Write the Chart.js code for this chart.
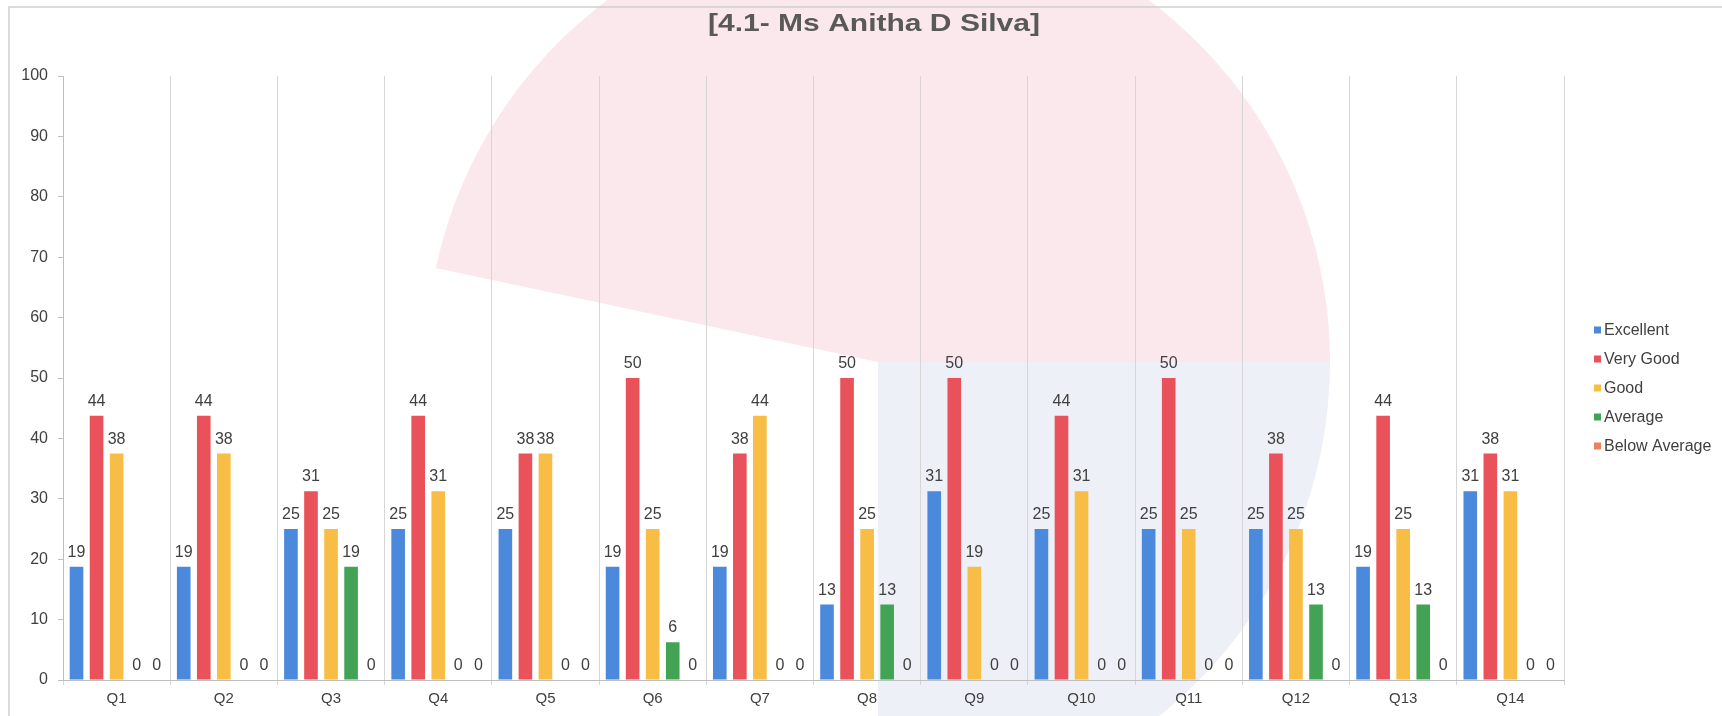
<!DOCTYPE html>
<html>
<head>
<meta charset="utf-8">
<script src="https://cdn.jsdelivr.net/npm/chart.js@4.4.1/dist/chart.umd.min.js"></script>
<style>
  html, body { margin: 0; padding: 0; background: #ffffff; }
  canvas { display: block; }
</style>
</head>
<body>
<canvas id="c" width="1722" height="716"></canvas>
<script>
const chartTitle = '[4.1- Ms Anitha D Silva]';
const categories = ['Q1','Q2','Q3','Q4','Q5','Q6','Q7','Q8','Q9','Q10','Q11','Q12','Q13','Q14'];
const seriesNames = ['Excellent','Very Good','Good','Average','Below Average'];
const excellent    = [18.75,18.75,25,25,25,18.75,18.75,12.5,31.25,25,25,25,18.75,31.25];
const veryGood     = [43.75,43.75,31.25,43.75,37.5,50,37.5,50,50,43.75,50,37.5,43.75,37.5];
const good         = [37.5,37.5,25,31.25,37.5,25,43.75,25,18.75,31.25,25,25,25,31.25];
const average      = [0,0,18.75,0,0,6.25,0,12.5,0,0,0,12.5,12.5,0];
const belowAverage = [0,0,0,0,0,0,0,0,0,0,0,0,0,0];
const yMin = 0, yMax = 100, yStep = 10;

const colors = ['#4a89dc','#e9525a','#f7bd45','#43a355','#eb8066'];
const seriesData = [excellent, veryGood, good, average, belowAverage];
const FONT = '"Liberation Sans", Arial, sans-serif';
const TEXT = '#404040';

const backgroundPlugin = {
  id: 'bg',
  beforeDraw(chart) {
    const ctx = chart.ctx;
    ctx.save();
    ctx.fillStyle = '#ffffff';
    ctx.fillRect(0, 0, chart.width, chart.height);
    // faint watermark of the scanned page
    const cx = 878, cy = 362, r = 452;
    ctx.fillStyle = '#fbe8ec';
    ctx.beginPath();
    ctx.moveTo(cx, cy);
    ctx.arc(cx, cy, r, Math.PI * 192 / 180, Math.PI * 2);
    ctx.closePath();
    ctx.fill();
    ctx.fillStyle = '#eef0f8';
    ctx.beginPath();
    ctx.moveTo(cx, cy);
    ctx.arc(cx, cy, r, 0, Math.PI / 2);
    ctx.closePath();
    ctx.fill();
    // frame
    ctx.strokeStyle = '#d0d0d0';
    ctx.lineWidth = 1.5;
    ctx.beginPath();
    ctx.moveTo(9, chart.height);
    ctx.lineTo(9, 7);
    ctx.lineTo(chart.width, 7);
    ctx.stroke();
    ctx.restore();
  }
};

const titlePlugin = {
  id: 'customTitle',
  afterDraw(chart) {
    const ctx = chart.ctx;
    ctx.save();
    ctx.font = 'bold 24px ' + FONT;
    ctx.fillStyle = '#595959';
    ctx.textBaseline = 'middle';
    ctx.textAlign = 'center';
    const w = ctx.measureText(chartTitle).width;
    ctx.translate(874, 24);
    ctx.scale(332 / w, 1);
    ctx.fillText(chartTitle, 0, 0);
    ctx.restore();
  }
};

const labelPlugin = {
  id: 'valueLabels',
  afterDatasetsDraw(chart) {
    const ctx = chart.ctx;
    ctx.save();
    ctx.font = '16px ' + FONT;
    ctx.fillStyle = TEXT;
    ctx.textAlign = 'center';
    ctx.textBaseline = 'alphabetic';
    chart.data.datasets.forEach((ds, i) => {
      const meta = chart.getDatasetMeta(i);
      meta.data.forEach((bar, j) => {
        const v = ds.data[j];
        ctx.fillText(String(Math.round(v)), bar.x, bar.y - 10);
      });
    });
    ctx.restore();
  }
};

const legendPlugin = {
  id: 'customLegend',
  afterDraw(chart) {
    const ctx = chart.ctx;
    ctx.save();
    ctx.font = '16px ' + FONT;
    ctx.textBaseline = 'middle';
    ctx.textAlign = 'left';
    const x0 = 1594, y0 = 330, dy = 29;
    chart.data.datasets.forEach((ds, i) => {
      const y = y0 + i * dy;
      ctx.fillStyle = ds.backgroundColor;
      ctx.fillRect(x0, y - 3.5, 7, 7);
      ctx.fillStyle = TEXT;
      ctx.fillText(ds.label, x0 + 10, y + 1);
    });
    ctx.restore();
  }
};

const datasets = seriesNames.map((name, i) => ({
  label: name,
  data: seriesData[i],
  backgroundColor: colors[i],
  borderWidth: 0,
  barPercentage: 0.68,
  categoryPercentage: 0.935
}));

new Chart(document.getElementById('c'), {
  type: 'bar',
  data: { labels: categories, datasets },
  options: {
    responsive: false,
    animation: false,
    layout: { padding: { top: 76, right: 158, bottom: 0, left: 0 } },
    plugins: {
      legend: { display: false },
      title: { display: false },
      tooltip: { enabled: false }
    },
    scales: {
      x: {
        grid: {
          display: true,
          offset: true,
          drawOnChartArea: true,
          drawTicks: true,
          tickLength: 5,
          color: '#d6d6d6',
          lineWidth: 1
        },
        border: { display: true, color: '#bfbfbf', width: 1 },
        ticks: {
          color: TEXT,
          font: { family: FONT, size: 15 },
          padding: 5,
          maxRotation: 0
        },
        afterFit(scale) { scale.height = 36; }
      },
      y: {
        min: yMin,
        max: yMax,
        grid: {
          display: true,
          drawOnChartArea: false,
          drawTicks: true,
          tickLength: 5,
          color: '#bfbfbf'
        },
        border: { display: true, color: '#bfbfbf', width: 1 },
        ticks: {
          stepSize: yStep,
          color: TEXT,
          font: { family: FONT, size: 16 },
          padding: 10
        },
        afterFit(scale) { scale.width = 63; }
      }
    }
  },
  plugins: [backgroundPlugin, labelPlugin, titlePlugin, legendPlugin]
});
</script>
</body>
</html>
